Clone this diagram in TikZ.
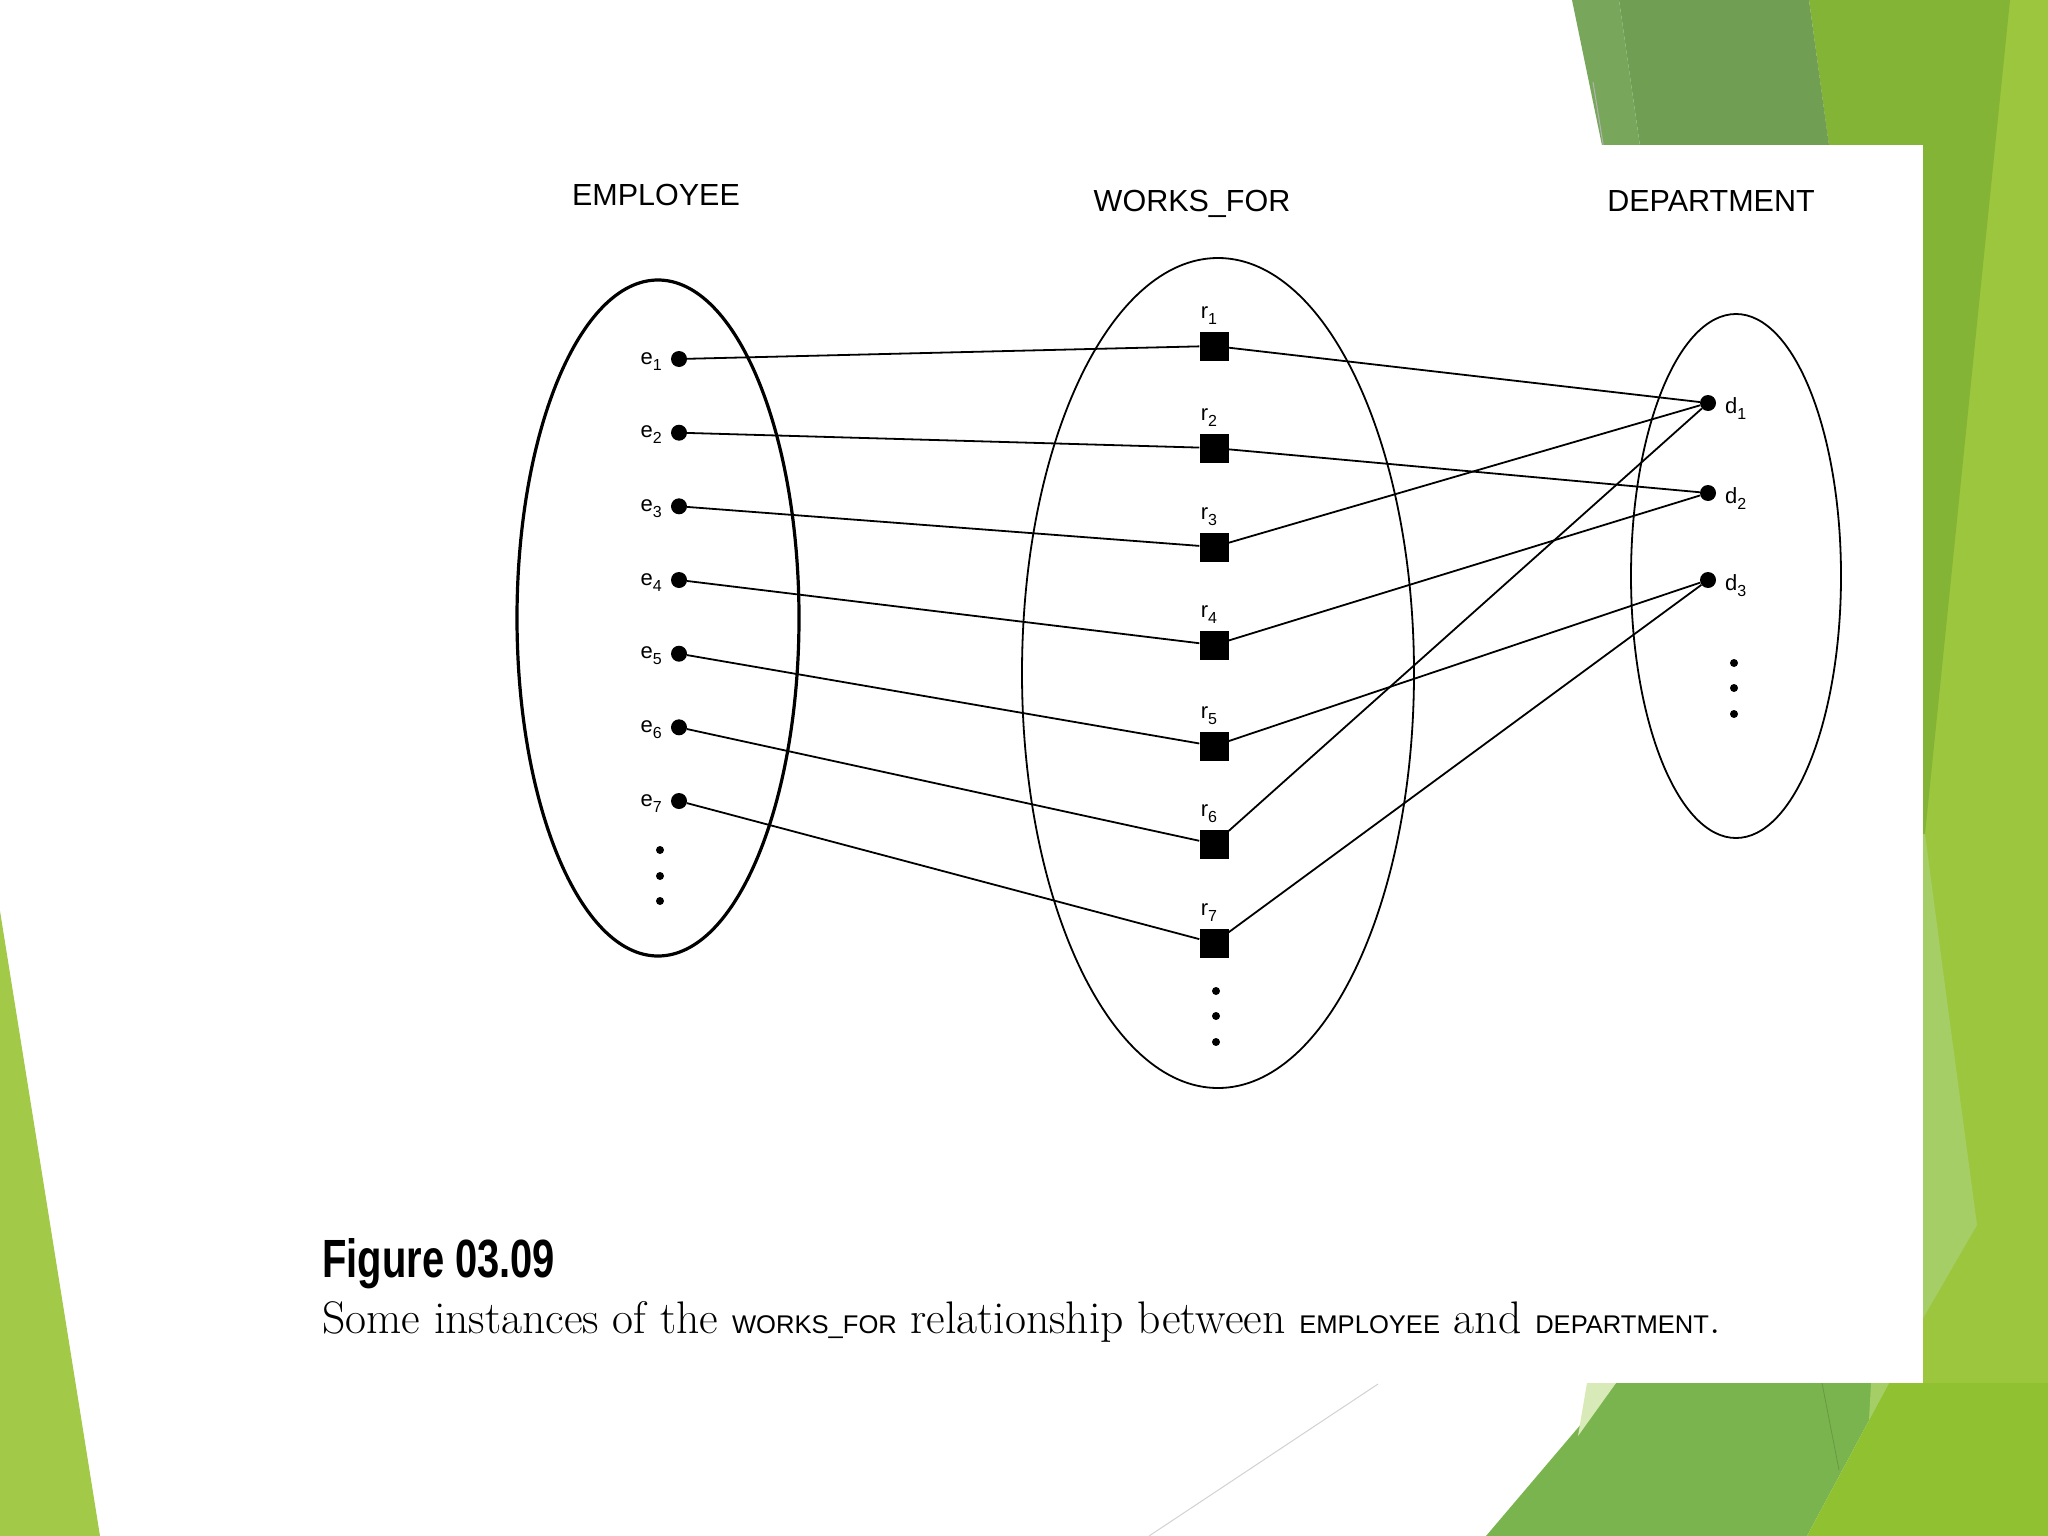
\documentclass[tikz,border=0pt]{standalone}
\usepackage{fontspec}
\usepackage{graphicx}
\newfontfamily\hv{Liberation Sans}
\usetikzlibrary{calc}
\definecolor{gDark}{HTML}{709E52}
\definecolor{gBand}{HTML}{78A75C}
\definecolor{gBright}{HTML}{84B435}
\definecolor{gLight}{HTML}{9CC63E}
\definecolor{gPale}{HTML}{A6CE66}
\definecolor{gMed}{HTML}{7AB44F}
\definecolor{gBot}{HTML}{90C130}
\definecolor{gVPale}{HTML}{D8EAB8}
\definecolor{gLeft}{HTML}{A2C948}
\newcommand\sbx[1]{\raisebox{-6pt}{\fontsize{16}{16}\selectfont#1}}
\newcommand\nmcap[1]{{\hv\fontsize{11.2}{11.2}\selectfont #1}}
\begin{document}
\begin{tikzpicture}[x=1pt,y=-1pt,
  edot/.style={circle,fill=black,inner sep=0pt,minimum size=16pt},
  rsq/.style={rectangle,fill=black,inner sep=0pt,minimum size=29pt},
  sdot/.style={circle,fill=black,inner sep=0pt,minimum size=8pt},
  conn/.style={line width=1.8pt},
  lab/.style={font=\hv\fontsize{22}{22}\selectfont,inner sep=0pt},
  head/.style={font=\hv\fontsize{30.5}{30.5}\selectfont,inner sep=0pt,anchor=base}]
\useasboundingbox (0,0) rectangle (2048,1536);
% background decoration
\fill[white] (0,0) rectangle (2048,1536);
\fill[gLight] (1900,0) rectangle (2048,1536);
\fill[gBright] (1809,0) -- (2010,0) -- (1925,834) -- (1860,834) -- (1850,300) -- cycle;
\fill[gPale] (1922,834) -- (1925,834) -- (1947,1001) -- (1977,1225) -- (1922,1320) -- cycle;
\fill[gDark] (1619,0) -- (1809,0) -- (1831,160) -- (1642,160) -- cycle;
\fill[gBand] (1572,0) -- (1619,0) -- (1642,160) -- (1605,160) -- cycle;
\draw[gray!60,line width=1pt] (1593,82) -- (1604,150);
\fill[gMed] (1616,1383) -- (1889,1383) -- (1807,1536) -- (1486,1536) -- cycle;
\fill[gBot] (1889,1383) -- (2048,1383) -- (2048,1536) -- (1807,1536) -- cycle;
\fill[gVPale] (1587,1383) -- (1616,1383) -- (1578,1436) -- cycle;
\fill[gPale] (1871,1383) -- (1889,1383) -- (1869,1420) -- cycle;
\draw[gMed!85!black,line width=0.8pt] (1822,1383) -- (1839,1470);
\fill[gLeft] (0,911) -- (100,1536) -- (0,1536) -- cycle;
\fill[white] (200,145) rectangle (1923,1383);
\draw[gray!35,line width=1pt] (1378,1384) -- (1149,1536);
% headers
\node[head] (hE) at (656,205) {EMPLOYEE};
\node[head] (hW) at (1192,211) {WORKS\_FOR};
\node[head] (hD) at (1711,211) {DEPARTMENT};
% ellipses
\draw[line width=3.2pt] (658,618) ellipse [x radius=141, y radius=338];
\draw[line width=1.8pt] (1218,673) ellipse [x radius=196, y radius=415];
\draw[line width=1.8pt] (1736,576) ellipse [x radius=105, y radius=262];
% entities
\foreach \i/\y in {1/359,2/432.7,3/506.3,4/580,5/653.7,6/727.3,7/801}{
  \node[edot] (e\i) at (679,\y) {};
  \node[lab,anchor=base east] (le\i) at ($(e\i)+(-17,5)$) {e\sbx{\i}};
}
\foreach \i/\y in {1/346,2/448,3/547,4/645,5/746,6/844,7/943}{
  \node[rsq] (r\i) at (1214,\y) {};
  \node[lab,anchor=base] (lr\i) at ($(r\i)+(-5,-28)$) {r\sbx{\i}};
}
\foreach \i/\y in {1/403,2/493,3/580}{
  \node[edot] (d\i) at (1708,\y) {};
  \node[lab,anchor=base west] (ld\i) at ($(d\i)+(17,10)$) {d\sbx{\i}};
}
% ellipsis dots
\foreach \j/\y in {1/850,2/876,3/901}{\node[sdot] (ed\j) at (660,\y) {};}
\foreach \j/\y in {1/991,2/1016,3/1042}{\node[sdot] (rd\j) at (1216,\y) {};}
\foreach \j/\y in {1/663,2/688,3/714}{\node[sdot] (dd\j) at (1734,\y) {};}
% connectors
\foreach \i in {1,...,7}{\draw[conn] (e\i) -- (r\i);}
\foreach \r/\d in {1/1,2/2,3/1,4/2,5/3,6/1,7/3}{\draw[conn] (r\r) -- (d\d);}
% caption
\node[anchor=base west,inner sep=0pt] (fig) at (322,1277) {\resizebox{233pt}{39pt}{\hv\bfseries Figure 03.09}};
\node[anchor=base west,inner sep=0pt] (cap) at (322,1333) {\resizebox{1398pt}{!}{\fontsize{20}{20}\selectfont Some instances of the \nmcap{WORKS\_FOR} relationship between \nmcap{EMPLOYEE} and \nmcap{DEPARTMENT}.}};
\end{tikzpicture}
\end{document}
